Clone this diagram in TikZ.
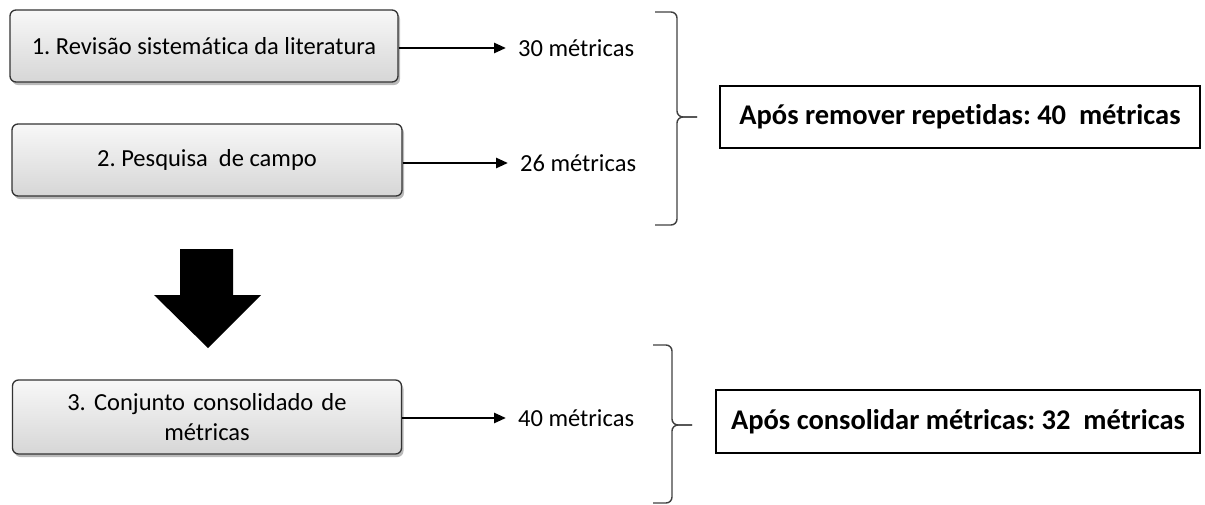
\documentclass[tikz,border=0pt]{standalone}
\usepackage{fontspec}
\setmainfont[Ligatures=NoCommon]{Carlito}
\usetikzlibrary{arrows.meta,shadows}

\tikzset{
  stagebox/.style={draw=black!80, line width=1.3pt, rounded corners=6pt,
    top color=gray!6, bottom color=gray!32,
    drop shadow={shadow xshift=2pt, shadow yshift=-3pt, opacity=0.45, fill=black!60},
    font=\fontsize{24.5}{30}\selectfont, text=black, align=center},
  countlabel/.style={inner sep=0pt, font=\fontsize{24.5}{28}\selectfont, anchor=west},
  resultbox/.style={draw=black, line width=2.2pt, inner sep=0pt,
    font=\bfseries\fontsize{28.5}{32}\selectfont},
  flow/.style={line width=2.6pt, -{Triangle[length=12pt,width=10pt]}, shorten >=12pt},
  bracket/.style={draw=black!75, line width=1.4pt, rounded corners=6pt},
}

\begin{document}
\frenchspacing
\begin{tikzpicture}[x=1pt, y=-1pt]
\useasboundingbox (0,0) rectangle (1205,504);

% stage boxes
\node[stagebox, minimum width=388pt, minimum height=72pt] (s1) at (204,46)
  {1. Revisão sistemática da literatura};
\node[stagebox, minimum width=390pt, minimum height=72pt] (s2) at (207,160)
  {2. Pesquisa\ \ de campo};
\node[stagebox, minimum width=389pt, minimum height=74pt, text width=380pt] (s3) at (207,417)
  {3. Conjunto\ consolidado\ de\\métricas};

% metric counts
\node[countlabel] (m1) at (518,48) {30 métricas};
\node[countlabel] (m2) at (520,163) {26 métricas};
\node[countlabel] (m3) at (518,418) {40 métricas};

\draw[flow] (s1.east |- m1.west) -- (m1.west);
\draw[flow] (s2.east |- m2.west) -- (m2.west);
\draw[flow] (s3.east |- m3.west) -- (m3.west);

% grouping braces
\draw[bracket] (655,12) -- (677,12) -- (677,117) -- (697,117);
\draw[bracket] (697,117) -- (677,117) -- (677,225) -- (655,225);
\draw[bracket] (653,345) -- (672,345) -- (672,425) -- (692,425);
\draw[bracket] (692,425) -- (672,425) -- (672,503) -- (653,503);

% results
\node[resultbox, minimum width=480pt, minimum height=62pt] (r1) at (960,117)
  {Após remover repetidas: 40\ \ métricas};
\node[resultbox, minimum width=484pt, minimum height=63pt] (r2) at (958,421.5)
  {Após consolidar métricas: 32\ \ métricas};

% block arrow between the stages
\fill[black] (180,249) -- (233,249) -- (233,295) -- (261,295) -- (208,348)
  -- (154,295) -- (180,295) -- cycle;
\end{tikzpicture}
\end{document}
